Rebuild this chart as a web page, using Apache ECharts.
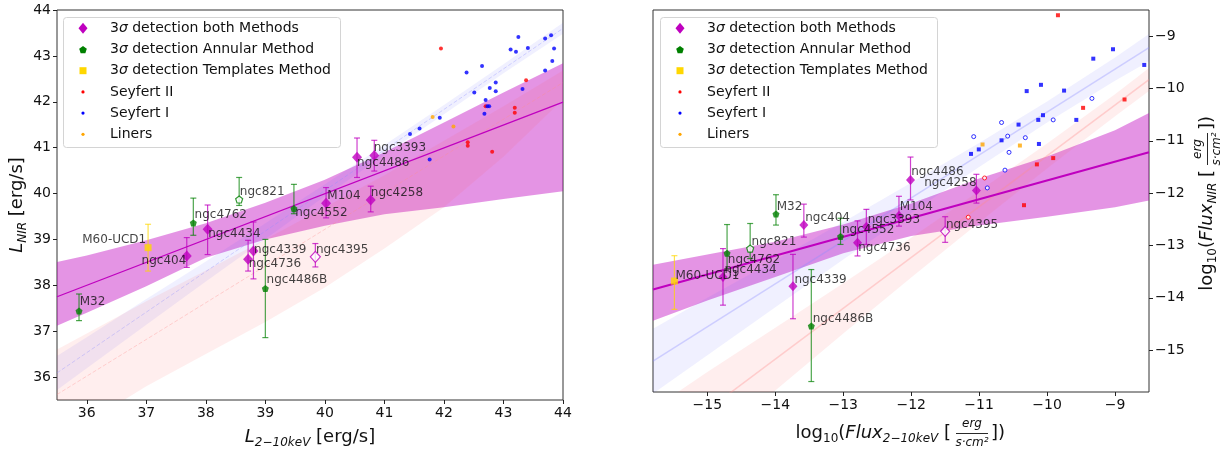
<!DOCTYPE html>
<html>
<head>
<meta charset="utf-8">
<script src="https://cdn.jsdelivr.net/npm/echarts@6/dist/echarts.min.js"></script>
<style>
  html, body { margin: 0; padding: 0; background: #fff; }
  #chart { width: 1229px; height: 452px; }
</style>
</head>
<body>
<div id="chart"></div>
<script>
// ---- ticks ----
const lumXTicks = [36, 37, 38, 39, 40, 41, 42, 43, 44];
const lumYTicks = [36, 37, 38, 39, 40, 41, 42, 43, 44];
const fluxXTicks = [-15, -14, -13, -12, -11, -10, -9];
const fluxYTicks = [-15, -14, -13, -12, -11, -10, -9];

// ---- luminosity panel: [x, y, yLow, yHigh] ----
const bothLumNames = ['ngc404', 'ngc4434', 'ngc4736', 'ngc4339', 'M104', 'ngc4258', 'ngc4486', 'ngc3393', 'ngc4395'];
const bothLum = [
  [37.68, 38.64, 38.39, 39.04], [38.03, 39.22, 38.67, 39.75], [38.71, 38.57, 38.31, 38.98],
  [38.80, 38.75, 38.14, 39.38], [40.02, 39.79, 39.47, 40.13], [40.77, 39.86, 39.60, 40.16],
  [40.54, 40.79, 40.35, 41.21], [40.83, 40.83, 40.49, 41.16], [39.84, 38.62, 38.40, 38.91]
];
const annularLumNames = ['M32', 'ngc4762', 'ngc4486B', 'ngc4552', 'ngc821'];
const annularLum = [
  [35.87, 37.44, 37.23, 37.81], [37.79, 39.36, 39.09, 39.90], [39.00, 37.93, 36.86, 39.00],
  [39.48, 39.67, 39.56, 40.20], [38.56, 39.87, 39.74, 40.35]
];
const templatesLumNames = ['M60-UCD1'];
const templatesLum = [[37.03, 38.82, 38.31, 39.33]];

const seyfert2Lum = [[41.95, 43.16], [42.40, 41.12], [42.40, 41.04], [42.70, 41.90], [42.81, 40.91],
  [43.19, 41.87], [43.19, 41.76], [43.38, 42.47]];
const seyfert1Lum = [[41.43, 41.30], [41.59, 41.42], [41.93, 41.65], [41.76, 40.74], [42.38, 42.64],
  [42.51, 42.20], [42.64, 42.78], [42.68, 41.74], [42.70, 42.04], [42.73, 41.90], [42.76, 41.90],
  [42.77, 42.30], [42.87, 42.42], [42.87, 42.23], [43.12, 43.14], [43.21, 43.09], [43.25, 43.41],
  [43.41, 43.17], [43.32, 42.28], [43.70, 43.38], [43.80, 43.45], [43.85, 43.16], [43.82, 42.89],
  [43.70, 42.68]];
const linersLum = [[41.81, 41.67], [42.16, 41.46]];

// fit line and confidence regions (read at these x)
const lumFit = [[35.5, 37.75], [44, 41.99]];
const lumBandX = [35.5, 36, 37, 38, 39, 40, 41, 42, 43, 44];
const lumFitHigh = [38.51, 38.65, 38.98, 39.35, 39.80, 40.30, 40.90, 41.55, 42.20, 42.84];
const lumFitLow = [37.12, 37.40, 37.98, 38.60, 39.00, 39.30, 39.55, 39.70, 39.88, 40.05];
const lumSy1Line = [[35.5, 36.09], [44, 43.60]];
const lumSy1High = [36.46, 36.87, 37.70, 38.52, 39.35, 40.20, 41.06, 41.93, 42.82, 43.72];
const lumSy1Low = [35.72, 36.19, 37.14, 38.08, 39.01, 39.94, 40.84, 41.73, 42.62, 43.48];
const lumSy2Line = [[35.5, 35.62], [44, 42.42]];
const lumSy2High = [36.60, 36.95, 37.65, 38.32, 39.00, 39.70, 40.40, 41.15, 41.90, 42.68];
const lumSy2Low = [34.50, 35.00, 35.80, 36.50, 37.20, 37.95, 38.80, 39.70, 40.80, 42.05];

// name label anchors [x, y]
const lumLabels = {
  'ngc3393': [40.82, 40.99], 'ngc4486': [40.54, 40.67], 'ngc4258': [40.77, 40.02], 'M104': [40.04, 39.95],
  'ngc4552': [39.50, 39.57], 'ngc821': [38.57, 40.04], 'ngc4762': [37.81, 39.54], 'ngc4434': [38.04, 39.11],
  'M60-UCD1': [37.00, 38.99], 'ngc404': [36.92, 38.54], 'ngc4339': [38.81, 38.78], 'ngc4736': [38.72, 38.47],
  'ngc4486B': [39.02, 38.11], 'ngc4395': [39.85, 38.78], 'M32': [35.88, 37.63]
};

// ---- flux panel ----
const bothFluxNames = ['ngc4434', 'ngc404', 'ngc4339', 'ngc4736', 'ngc3393', 'M104', 'ngc4486', 'ngc4258', 'ngc4395'];
const bothFlux = [
  [-14.77, -13.60, -14.14, -13.06], [-13.58, -12.61, -12.84, -12.21], [-13.74, -13.78, -14.40, -13.17],
  [-12.79, -12.95, -13.20, -12.53], [-12.66, -12.64, -12.98, -12.31], [-12.18, -12.43, -12.63, -12.06],
  [-12.01, -11.75, -12.13, -11.31], [-11.04, -11.95, -12.19, -11.64], [-11.50, -12.73, -12.94, -12.45]
];
const annularFluxNames = ['M32', 'ngc4762', 'ngc4486B', 'ngc4552', 'ngc821'];
const annularFlux = [
  [-13.99, -12.40, -12.61, -12.03], [-14.71, -13.15, -13.45, -12.60], [-13.47, -14.54, -15.60, -13.46],
  [-13.04, -12.83, -12.98, -12.48], [-14.37, -13.06, -13.25, -12.58]
];
const templatesFluxNames = ['M60-UCD1'];
const templatesFlux = [[-15.485, -13.68, -14.22, -13.195]];

const seyfert2Flux = [[-9.84, -8.60], [-10.15, -11.45], [-9.91, -11.33], [-10.34, -12.23], [-9.47, -10.37], [-8.86, -10.21]];
const seyfert2FluxFaint = [[-10.92, -11.71], [-11.16, -12.46]];
const seyfert1Flux = [[-11.12, -11.25], [-11.005, -11.164], [-10.67, -10.99], [-10.42, -10.69], [-10.30, -10.05],
  [-10.13, -10.60], [-10.12, -11.06], [-10.09, -9.93], [-10.06, -10.51], [-9.75, -10.04], [-9.57, -10.60],
  [-9.32, -9.43], [-9.03, -9.25], [-8.57, -9.55]];
const seyfert1FluxFaint = [[-11.08, -10.92], [-10.67, -10.65], [-10.58, -10.91], [-10.56, -11.22], [-10.62, -11.56],
  [-10.88, -11.90], [-10.32, -10.94], [-9.91, -10.60], [-9.34, -10.19]];
const linersFlux = [[-10.95, -11.07], [-10.40, -11.09]];

const fluxFit = [[-15.8, -13.84], [-8.5, -11.22]];
const fluxBandX = [-15.8, -15, -14, -13, -12, -11, -10, -9, -8.5];
const fluxFitHigh = [-13.37, -13.17, -12.93, -12.60, -12.20, -11.72, -11.30, -10.80, -10.47];
const fluxFitLow = [-14.44, -14.05, -13.60, -13.15, -12.82, -12.62, -12.45, -12.27, -12.14];
const fluxSy1Line = [[-15.8, -15.21], [-8.5, -9.22]];
const fluxSy1High = [-14.59, -14.00, -13.28, -12.55, -11.80, -11.04, -10.25, -9.41, -8.96];
const fluxSy1Low = [-15.83, -15.10, -14.18, -13.27, -12.38, -11.50, -10.65, -9.85, -9.48];
const fluxSy2Line = [[-15.8, -16.92], [-8.5, -9.83]];
const fluxSy2High = [-16.12, -15.42, -14.57, -13.72, -12.85, -11.96, -11.05, -10.11, -9.61];
const fluxSy2Low = [-17.72, -16.86, -15.77, -14.68, -13.61, -12.56, -11.53, -10.53, -10.05];

const fluxLabels = {
  'M32': [-13.98, -12.27], 'ngc404': [-13.56, -12.48], 'ngc821': [-14.35, -12.93], 'ngc4762': [-14.70, -13.27],
  'ngc4434': [-14.75, -13.46], 'M60-UCD1': [-15.47, -13.58], 'ngc4339': [-13.72, -13.65], 'ngc4486B': [-13.45, -14.41],
  'ngc4552': [-13.02, -12.70], 'ngc3393': [-12.64, -12.51], 'ngc4736': [-12.78, -13.05], 'M104': [-12.17, -12.27],
  'ngc4486': [-12.00, -11.60], 'ngc4258': [-11.81, -11.81], 'ngc4395': [-11.49, -12.61]
};
const openNames = ['ngc4395', 'ngc821'];

const legendTexts = ['3{s|σ} detection both Methods', '3{s|σ} detection Annular Method',
  '3{s|σ} detection Templates Method', 'Seyfert II', 'Seyfert I', 'Liners'];

// ---- styles ----
const FONT = 'DejaVu Sans';
const MAG = '#bf00bf', GREEN = '#008000', GOLD = '#ffd700', RED = '#ff0000', BLUE = '#0000ff', ORANGE = '#ffa500';
const PENTA = 'path://M50,0 L97.6,34.5 L79.4,90.5 L20.6,90.5 L2.4,34.5 Z';

function fmtMinus(v) { return v < 0 ? '\u2212' + Math.abs(v) : String(v); }

function band(gi, xs, lo, hi, color) {
  return {
    type: 'custom', xAxisIndex: gi, yAxisIndex: gi, silent: true, z: 1,
    data: [[xs[0], hi[0]]],
    renderItem: function (params, api) {
      var pts = [];
      for (var i = 0; i < xs.length; i++) pts.push(api.coord([xs[i], hi[i]]));
      for (var j = xs.length - 1; j >= 0; j--) pts.push(api.coord([xs[j], lo[j]]));
      var cs = params.coordSys;
      return {
        type: 'polygon', shape: { points: pts }, style: { fill: color },
        clipPath: { type: 'rect', shape: { x: cs.x, y: cs.y, width: cs.width, height: cs.height } }
      };
    }
  };
}

function line(gi, pts, color, width, type) {
  return {
    type: 'line', xAxisIndex: gi, yAxisIndex: gi, data: pts, symbol: 'none', silent: true, z: 2,
    lineStyle: { color: color, width: width, type: type || 'solid' }
  };
}

function errbars(gi, rows, color) {
  return {
    type: 'custom', xAxisIndex: gi, yAxisIndex: gi, silent: true, z: 3,
    data: rows,
    encode: { x: 0, y: [1, 2, 3] },
    renderItem: function (params, api) {
      var top = api.coord([api.value(0), api.value(3)]);
      var bot = api.coord([api.value(0), api.value(2)]);
      var c = 3;
      var st = { stroke: color, lineWidth: 1.2 };
      return {
        type: 'group', children: [
          { type: 'line', shape: { x1: top[0], y1: top[1], x2: bot[0], y2: bot[1] }, style: st },
          { type: 'line', shape: { x1: top[0] - c, y1: top[1], x2: top[0] + c, y2: top[1] }, style: st },
          { type: 'line', shape: { x1: bot[0] - c, y1: bot[1], x2: bot[0] + c, y2: bot[1] }, style: st }
        ]
      };
    }
  };
}

function points(gi, name, rows, names, symbol, size, color) {
  return {
    type: 'scatter', name: name, xAxisIndex: gi, yAxisIndex: gi, symbol: symbol, symbolSize: size, z: 4,
    itemStyle: { color: color },
    data: rows.map(function (r, i) {
      var open = names && openNames.indexOf(names[i]) >= 0;
      return {
        name: names ? names[i] : '', value: [r[0], r[1]],
        itemStyle: open ? { color: '#ffffff', borderColor: color, borderWidth: 1.2 } : undefined
      };
    })
  };
}

function dots(gi, name, rows, symbol, size, color, hollow) {
  return {
    type: 'scatter', name: name, xAxisIndex: gi, yAxisIndex: gi, symbol: symbol, symbolSize: size, z: 4,
    itemStyle: hollow ? { color: '#ffffff', borderColor: color, borderWidth: 1 } : { color: color },
    data: rows
  };
}

function labels(gi, map) {
  return {
    type: 'scatter', xAxisIndex: gi, yAxisIndex: gi, symbolSize: 0.1, silent: true, z: 5,
    itemStyle: { color: 'transparent' },
    label: { show: true, formatter: '{b}', color: '#111', fontSize: 12, fontFamily: FONT, distance: 0, position: 'right' },
    data: Object.keys(map).map(function (k) {
      var d = { name: k, value: map[k] };
      if (gi === 0 && k === 'M60-UCD1') d.label = { position: 'left' };
      return d;
    })
  };
}

function hexA(hex, a) {
  var n = parseInt(hex.slice(1), 16);
  return 'rgba(' + (n >> 16) + ',' + ((n >> 8) & 255) + ',' + (n & 255) + ',' + a + ')';
}

function panel(gi, d) {
  return [
    band(gi, d.bx, d.fitLo, d.fitHi, hexA(MAG, 0.42)),
    band(gi, d.bx, d.s1Lo, d.s1Hi, 'rgba(90,90,255,0.09)'),
    band(gi, d.bx, d.s2Lo, d.s2Hi, 'rgba(255,90,90,0.10)'),
    line(gi, d.s1Line, 'rgba(140,140,255,0.35)', d.dash ? 1 : 1.5, d.dash ? 'dashed' : 'solid'),
    line(gi, d.s2Line, 'rgba(255,140,140,0.35)', d.dash ? 1 : 1.5, d.dash ? 'dashed' : 'solid'),
    line(gi, d.fit, MAG, d.fitW),
    errbars(gi, d.both, hexA(MAG, 0.75)),
    errbars(gi, d.annular, hexA(GREEN, 0.7)),
    errbars(gi, d.templates, hexA(GOLD, 0.7)),
    points(gi, '3σ detection both Methods', d.both, d.bothNames, 'diamond', d.dia, MAG),
    points(gi, '3σ detection Annular Method', d.annular, d.annularNames, PENTA, 7, GREEN),
    points(gi, '3σ detection Templates Method', d.templates, d.templatesNames, 'rect', 7, GOLD),
    dots(gi, 'Seyfert II', d.sy2, d.dotSym, 4, RED),
    dots(gi, 'Seyfert I', d.sy1, d.dotSym, 4, BLUE),
    dots(gi, 'Liners', d.lin, d.dotSym, 4, ORANGE),
    labels(gi, d.labels)
  ];
}

var series = []
  .concat(panel(0, {
    bx: lumBandX, fitLo: lumFitLow, fitHi: lumFitHigh, s1Lo: lumSy1Low, s1Hi: lumSy1High,
    s2Lo: lumSy2Low, s2Hi: lumSy2High, s1Line: lumSy1Line, s2Line: lumSy2Line, fit: lumFit, fitW: 1.3, dash: true,
    both: bothLum, bothNames: bothLumNames, annular: annularLum, annularNames: annularLumNames,
    templates: templatesLum, templatesNames: templatesLumNames, dia: [10, 11],
    sy2: seyfert2Lum, sy1: seyfert1Lum, lin: linersLum, dotSym: 'circle', labels: lumLabels
  }))
  .concat(panel(1, {
    bx: fluxBandX, fitLo: fluxFitLow, fitHi: fluxFitHigh, s1Lo: fluxSy1Low, s1Hi: fluxSy1High,
    s2Lo: fluxSy2Low, s2Hi: fluxSy2High, s1Line: fluxSy1Line, s2Line: fluxSy2Line, fit: fluxFit, fitW: 2, dash: false,
    both: bothFlux, bothNames: bothFluxNames, annular: annularFlux, annularNames: annularFluxNames,
    templates: templatesFlux, templatesNames: templatesFluxNames, dia: [9, 10],
    sy2: seyfert2Flux, sy1: seyfert1Flux, lin: linersFlux, dotSym: 'rect', labels: fluxLabels
  }))
  .concat([
    dots(1, 'Seyfert II', seyfert2FluxFaint, 'circle', 4, RED, true),
    dots(1, 'Seyfert I', seyfert1FluxFaint, 'circle', 4, BLUE, true)
  ]);

function axis(gi, min, max, ticks, pos) {
  return {
    gridIndex: gi, type: 'value', min: min, max: max, position: pos,
    axisLine: { show: false },
    axisTick: { show: true, length: 4, lineStyle: { color: '#222' }, customValues: ticks },
    axisLabel: { customValues: ticks, fontSize: 14, fontFamily: FONT, color: '#111', margin: 6, formatter: fmtMinus },
    splitLine: { show: false }
  };
}

// ---- legend boxes and axis titles (graphic) ----
var rich = {
  n: { fontSize: 18, fontFamily: FONT, lineHeight: 24 },
  i: { fontSize: 18, fontFamily: FONT, fontStyle: 'italic', lineHeight: 24 },
  s: { fontSize: 12, fontFamily: FONT, fontStyle: 'italic', verticalAlign: 'bottom', lineHeight: 12 },
  sn: { fontSize: 12, fontFamily: FONT, verticalAlign: 'bottom', lineHeight: 12 }
};

function txt(x, y, text, align, extra) {
  var st = { text: text, rich: rich, fill: '#111', fontFamily: FONT, fontSize: 18,
    align: align, textAlign: align, verticalAlign: 'middle', textVerticalAlign: 'middle' };
  for (var k in (extra || {})) st[k] = extra[k];
  return { type: 'text', x: x, y: y, style: st };
}

function fraction(cx, cy) {
  var f = { fontSize: 12, fontStyle: 'italic', rich: {} };
  return [
    txt(cx, cy - 9.5, 'erg', 'center', f),
    { type: 'line', shape: { x1: cx - 16, y1: cy + 0.5, x2: cx + 16, y2: cy + 0.5 }, style: { stroke: '#111', lineWidth: 0.9 } },
    txt(cx, cy + 10, 's\u00b7cm\u00b2', 'center', f)
  ];
}

function legend(x0) {
  var out = [{ type: 'rect', shape: { x: x0 + 0.5, y: 17.5, width: 277, height: 130, r: 3 },
    style: { fill: 'rgba(255,255,255,0.85)', stroke: '#d4d4d4', lineWidth: 1 } }];
  var cx = x0 + 20;
  legendTexts.forEach(function (t, i) {
    var y = 28.3 + i * 21.2;
    if (i === 0) out.push({ type: 'polygon', shape: { points: [[cx, y - 5.5], [cx + 4.5, y], [cx, y + 5.5], [cx - 4.5, y]] }, style: { fill: MAG } });
    if (i === 1) {
      var p = [];
      for (var k = 0; k < 5; k++) { var a = (-90 + 72 * k) * Math.PI / 180; p.push([cx + 4 * Math.cos(a), y + 0.5 + 4 * Math.sin(a)]); }
      out.push({ type: 'polygon', shape: { points: p }, style: { fill: GREEN } });
    }
    if (i === 2) out.push({ type: 'rect', shape: { x: cx - 3.5, y: y - 3.5, width: 7, height: 7 }, style: { fill: GOLD } });
    if (i >= 3) out.push({ type: 'circle', shape: { cx: cx, cy: y, r: 1.6 }, style: { fill: [RED, BLUE, ORANGE][i - 3] } });
    out.push({ type: 'text', x: x0 + 47, y: y, style: {
      text: t, fill: '#111', fontFamily: FONT, fontSize: 14, align: 'left', textAlign: 'left',
      verticalAlign: 'middle', textVerticalAlign: 'middle',
      rich: { s: { fontSize: 14, fontFamily: FONT, fontStyle: 'italic' } } } });
  });
  return out;
}

var graphics = []
  .concat(legend(63))
  .concat(legend(660))
  .concat([
    (function () { var t = txt(17, 205, '{i|L}{s|NIR}{n| [erg/s]}', 'center'); t.rotation = Math.PI / 2; return t; })(),
    txt(310, 437, '{i|L}{s|2\u221210keV}{n| [erg/s]}', 'center'),
    txt(951, 433, '{n|log}{sn|10}{n|(}{i|Flux}{s|2\u221210keV}{n| [}', 'right')
  ])
  .concat(fraction(972, 433))
  .concat([
    txt(991, 433, '{n|])}', 'left'),
    {
      type: 'group', x: 1207, y: 201, rotation: Math.PI / 2,
      children: [txt(31, 0, '{n|log}{sn|10}{n|(}{i|Flux}{s|NIR}{n| [}', 'right')]
        .concat(fraction(52, 0))
        .concat([txt(71, 0, '{n|])}', 'left')])
    }
  ]);
graphics.forEach(function (g) { g.z = 100; });

var chart = echarts.init(document.getElementById('chart'));
chart.setOption({
  animation: false,
  backgroundColor: '#ffffff',
  textStyle: { fontFamily: FONT },
  grid: [
    { left: 57, top: 10, width: 506, height: 390, show: true, borderColor: '#333', borderWidth: 1, backgroundColor: 'transparent' },
    { left: 653, top: 10, width: 496, height: 382, show: true, borderColor: '#333', borderWidth: 1, backgroundColor: 'transparent' }
  ],
  xAxis: [axis(0, 35.5, 44, lumXTicks, 'bottom'), axis(1, -15.8, -8.5, fluxXTicks, 'bottom')],
  yAxis: [axis(0, 35.5, 44, lumYTicks, 'left'), axis(1, -15.8, -8.5, fluxYTicks, 'right')],
  graphic: graphics,
  series: series
});
</script>
</body>
</html>
